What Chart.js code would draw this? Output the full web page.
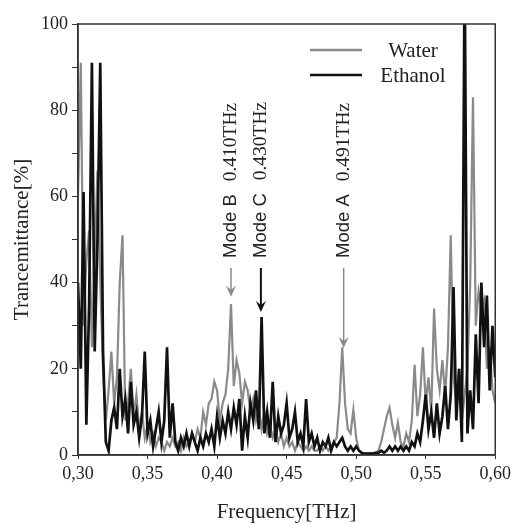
<!DOCTYPE html>
<html>
<head>
<meta charset="utf-8">
<script src="https://cdn.jsdelivr.net/npm/chart.js@4"></script>
<style>
  html, body { margin: 0; padding: 0; background: #fff; }
  #wrap { width: 515px; height: 525px; }
</style>
</head>
<body>
<div id="wrap"><canvas id="chart" width="515" height="525"></canvas></div>
<script>
// frequency grid, THz (0.300 .. 0.600 in 0.002 steps)
const freqStart = 0.300;
const freqStep = 0.002;

// transmittance in %
const water = [
  60, 91, 30, 45, 52, 25, 45, 66, 40, 20,
  8, 15, 24, 12, 18, 40, 51, 8, 12, 20,
  9, 14, 6, 10, 4, 7, 3, 5, 2, 4,
  3, 1, 3, 2, 4, 2, 3, 1, 4, 2,
  3, 5, 3, 6, 4, 10, 7, 12, 13, 17,
  15, 8, 12, 14, 20, 35, 16, 22, 19, 12,
  17, 15, 10, 13, 8, 11, 6, 10, 5, 7,
  4, 6, 3, 5, 2, 4, 2, 3, 1, 3,
  2, 1, 2, 1, 2, 1, 1, 2, 1, 2,
  1, 2, 3, 4, 12, 25, 12, 6, 5, 10.5,
  4, 1, 0.5, 0.3, 0.3, 0.3, 0.5, 0.5, 1, 3,
  6, 9, 11, 7, 4, 7.5, 3, 2, 5, 3,
  8, 21, 9, 14, 25, 12, 18, 10, 34, 20,
  15, 22, 14, 25, 51, 18, 12, 20, 8, 14,
  20, 40, 83, 30, 38, 34, 36, 20, 25, 15,
  12
];

const ethanol = [
  40, 20, 61, 7, 35, 91, 24, 50, 91, 24,
  3, 1, 8, 11, 6, 20, 9, 13, 5, 17,
  7, 10, 4, 9, 24, 5, 8, 2, 6, 10,
  3, 8, 25, 4, 12, 3, 1, 4, 2, 5,
  2, 5, 3, 1, 4, 2, 5, 3, 6, 2,
  9, 4, 8, 5, 10, 6, 11, 7, 13, 1,
  9, 4, 12, 8, 15, 6, 32, 5, 10, 4,
  17, 3, 9, 5, 7, 12, 4, 6, 10, 3,
  5, 2, 13, 3, 5, 2, 4, 1, 3, 2,
  4, 1, 3, 2, 3, 4, 2, 1, 2, 1,
  2, 1, 0.5, 0.3, 0.3, 0.3, 0.3, 0.5, 0.5, 1,
  0.5, 1, 2, 1, 2, 1, 2, 1, 2, 1,
  3, 2, 5, 3, 8, 14, 6, 10, 4, 12,
  5, 9, 16, 6, 14, 39, 8, 20, 3, 115,
  5, 15, 6, 28, 12, 40, 25, 37, 15, 30,
  18
];

const xTicks = [0.30, 0.35, 0.40, 0.45, 0.50, 0.55, 0.60];

// mode annotations: label, frequency, arrow tip value, colour
const modeNames = ['Mode B', 'Mode C', 'Mode A'];
const modeFreqs = ['0.410THz', '0.430THz', '0.491THz'];
const modeX = [0.410, 0.4315, 0.491];
const modeTip = [36.7, 33.2, 24.8];
const modeColors = ['#8a8a8a', '#111111', '#8a8a8a'];

const grayColor = '#8a8a8a';
const blackColor = '#111111';
const axisColor = '#333333';

const toPoints = arr => arr.map((v, i) => ({ x: +(freqStart + i * freqStep).toFixed(3), y: v }));

// frame, legend and mode arrows
const extras = {
  id: 'extras',
  afterDatasetsDraw(chart) {
    const ctx = chart.ctx;
    const a = chart.chartArea;
    const xs = chart.scales.x;
    const ys = chart.scales.y;
    ctx.save();

    // box around plot
    ctx.strokeStyle = axisColor;
    ctx.lineWidth = 1.5;
    ctx.strokeRect(a.left, a.top, a.right - a.left, a.bottom - a.top);

    // legend
    ctx.lineWidth = 2.5;
    ctx.strokeStyle = grayColor;
    ctx.beginPath(); ctx.moveTo(310, 50); ctx.lineTo(362, 50); ctx.stroke();
    ctx.strokeStyle = blackColor;
    ctx.beginPath(); ctx.moveTo(310, 75); ctx.lineTo(362, 75); ctx.stroke();
    ctx.fillStyle = '#222';
    ctx.font = '21px "Liberation Serif"';
    ctx.textAlign = 'center';
    ctx.textBaseline = 'middle';
    ctx.fillText('Water', 413, 51);
    ctx.fillText('Ethanol', 413, 76);

    // mode arrows + rotated labels
    const startVal = 43.4;
    modeNames.forEach((name, i) => {
      const px = xs.getPixelForValue(modeX[i]);
      const y0 = ys.getPixelForValue(startVal);
      const y1 = ys.getPixelForValue(modeTip[i]);
      ctx.strokeStyle = modeColors[i];
      ctx.fillStyle = modeColors[i];
      ctx.lineWidth = i === 1 ? 2 : 1.5;
      ctx.beginPath(); ctx.moveTo(px, y0); ctx.lineTo(px, y1 - 6); ctx.stroke();
      ctx.beginPath();
      ctx.moveTo(px, y1);
      ctx.lineTo(px - 5, y1 - 11);
      ctx.lineTo(px, y1 - 7);
      ctx.lineTo(px + 5, y1 - 11);
      ctx.closePath();
      ctx.fill();

      ctx.save();
      ctx.translate(px, ys.getPixelForValue(45.7));
      ctx.rotate(-Math.PI / 2);
      ctx.fillStyle = '#222';
      ctx.textAlign = 'left';
      ctx.textBaseline = 'middle';
      ctx.font = '18.5px "Liberation Sans"';
      ctx.fillText(name, 0, 0);
      const w = ctx.measureText(name).width + 13;
      ctx.font = '19.5px "Liberation Serif"';
      ctx.fillText(modeFreqs[i], w, 0);
      ctx.restore();
    });
    ctx.restore();
  }
};

new Chart(document.getElementById('chart'), {
  type: 'line',
  data: {
    datasets: [
      {
        label: 'Water',
        data: toPoints(water),
        borderColor: grayColor,
        borderWidth: 2.2,
        pointRadius: 0,
        tension: 0,
        order: 2
      },
      {
        label: 'Ethanol',
        data: toPoints(ethanol),
        borderColor: blackColor,
        borderWidth: 2.7,
        pointRadius: 0,
        tension: 0,
        order: 1
      }
    ]
  },
  options: {
    responsive: false,
    animation: false,
    layout: { padding: { top: 24, right: 15, left: 0, bottom: 0 } },
    plugins: {
      legend: { display: false },
      tooltip: { enabled: false }
    },
    scales: {
      x: {
        type: 'linear',
        min: 0.30,
        max: 0.60,
        afterBuildTicks: axis => { axis.ticks = xTicks.map(v => ({ value: v })); },
        afterFit: axis => { axis.height = 70; },
        border: { color: axisColor, width: 1.5 },
        grid: { drawOnChartArea: false, tickLength: 4, color: axisColor },
        ticks: {
          color: '#222',
          font: { family: 'Liberation Serif', size: 18 },
          padding: 4,
          maxRotation: 0,
          callback: v => v.toFixed(2).replace('.', ',')
        },
        title: {
          display: true,
          text: 'Frequency[THz]',
          color: '#222',
          font: { family: 'Liberation Serif', size: 21 },
          padding: { top: 14, bottom: 0 }
        }
      },
      y: {
        min: 0,
        max: 100,
        afterFit: axis => { axis.width = 78; },
        border: { color: axisColor, width: 1.5 },
        grid: { drawOnChartArea: false, tickLength: 6, color: axisColor },
        ticks: {
          stepSize: 10,
          color: '#222',
          font: { family: 'Liberation Serif', size: 18 },
          padding: 4,
          callback: v => (v % 20 === 0 ? v : '')
        },
        title: {
          display: true,
          text: 'Trancemittance[%]',
          color: '#222',
          font: { family: 'Liberation Serif', size: 21 },
          padding: { top: 10, bottom: 0 }
        }
      }
    }
  },
  plugins: [extras]
});
</script>
</body>
</html>
